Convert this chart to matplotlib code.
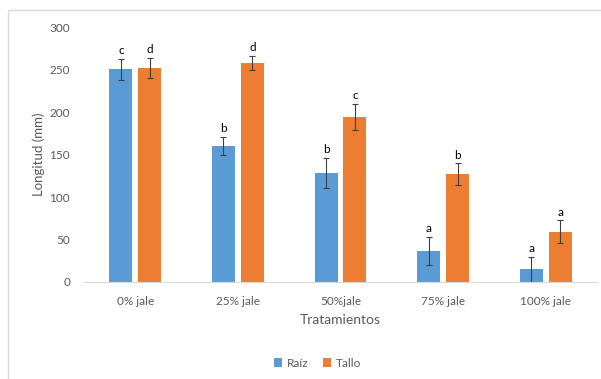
import numpy as np
import matplotlib.pyplot as plt
from matplotlib.patches import Rectangle

plt.rcParams['font.family'] = ['Lato', 'DejaVu Sans']

categorias = ['0% jale', '25% jale', '50%jale', '75% jale', '100% jale']
raiz = [250.5, 160.5, 128.5, 36.5, 15]
raiz_err = [12.5, 10.5, 18, 17, 14.5]
tallo = [252.5, 258, 194.5, 127, 59]
tallo_err = [11.5, 8.5, 15.5, 13, 13.5]
letras_raiz = ['c', 'b', 'b', 'a', 'a']
letras_tallo = ['d', 'd', 'c', 'b', 'a']

W, H = 601, 379
fig = plt.figure(figsize=(W / 100, H / 100), dpi=100)
ax = fig.add_axes([84 / W, (H - 282) / H, (597 - 84) / W, (282 - 27.5) / H])

# marco del grafico
fig.patches.append(Rectangle((8 / W, -0.05), 1.0, (H - 10) / H + 0.05,
                             transform=fig.transFigure, fill=False,
                             edgecolor='#d9d9d9', linewidth=1))

x = np.arange(len(categorias))
w = 0.224
off = 0.141
gris = '#595959'
ekw = dict(ecolor='#404040', elinewidth=0.8, capsize=2.5, capthick=0.8)

ax.bar(x - off, raiz, w, yerr=raiz_err, color='#5B9BD5', label='Raíz', error_kw=ekw)
ax.bar(x + off, tallo, w, yerr=tallo_err, color='#ED7D31', label='Tallo', error_kw=ekw)

for i in range(len(categorias)):
    ax.text(x[i] - off, raiz[i] + raiz_err[i] + 3, letras_raiz[i], ha='center',
            va='bottom', fontsize=8.5, color='black')
    ax.text(x[i] + off, tallo[i] + tallo_err[i] + 3, letras_tallo[i], ha='center',
            va='bottom', fontsize=8.5, color='black')

ax.set_xlim(-0.5, len(categorias) - 0.5)
ax.set_ylim(0, 300)
ax.set_yticks(range(0, 301, 50))
ax.set_xticks(x)
ax.set_xticklabels(categorias)
ax.tick_params(length=0, labelsize=8.5, colors=gris, pad=10)
ax.tick_params(axis='y', pad=10)
for s in ['top', 'right', 'left']:
    ax.spines[s].set_visible(False)
ax.spines['bottom'].set_color('#d9d9d9')

ax.set_xlabel('Tratamientos', fontsize=10, color=gris, labelpad=5)
ax.set_ylabel('Longitud (mm)', fontsize=9.5, color=gris, labelpad=3)

ax.legend(loc='upper center', bbox_to_anchor=(0.455, -0.255), ncol=2, frameon=False,
          fontsize=8.5, labelcolor=gris, handlelength=0.7, handleheight=0.7,
          handletextpad=0.4, columnspacing=1.2)

fig.savefig('out.png', dpi=100)
